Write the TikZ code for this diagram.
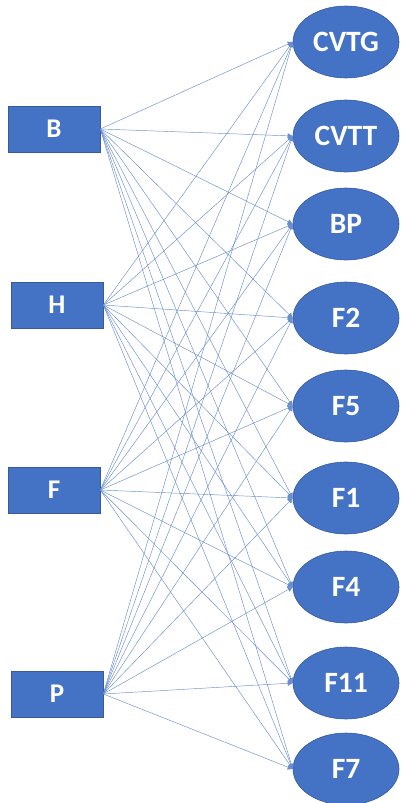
\documentclass[tikz,border=0pt]{standalone}
\usepackage{fontspec}
\setmainfont{Carlito}
\usetikzlibrary{shapes.geometric,arrows.meta}
\definecolor{officeblue}{HTML}{4472C4}
\definecolor{edgeblue}{HTML}{6A8DCD}
\tikzset{
  src/.style={draw=officeblue!80!black, line width=0.6pt, fill=officeblue,
    minimum width=92pt, minimum height=46pt, inner sep=0pt,
    text=white, font=\bfseries\fontsize{27}{30}\selectfont},
  dst/.style={ellipse, draw=officeblue!80!black, line width=0.6pt, fill=officeblue,
    minimum width=106pt, minimum height=72pt, inner sep=0pt,
    text=white, font=\bfseries\fontsize{29.5}{33}\selectfont},
  link/.style={draw=edgeblue, line width=0.45pt,
    -{Triangle[length=5pt,width=5pt]}}
}
\begin{document}
\begin{tikzpicture}[x=1pt,y=-1pt]
\useasboundingbox (0,0) rectangle (401,803);
% input blocks
\node[src] (B) at (54,129) {B};
\node[src] (H) at (57,305) {H};
\node[src] (F) at (54,490) {F};
\node[src] (P) at (57,694) {P};
% output ellipses
\node[dst] (CVTG) at (346,42)  {CVTG};
\node[dst] (CVTT) at (346,136) {CVTT};
\node[dst] (BP)   at (346,224) {BP};
\node[dst] (F2)   at (346,318) {F2};
\node[dst] (F5)   at (346,406) {F5};
\node[dst] (F1)   at (346,498) {F1};
\node[dst] (F4)   at (346,587) {F4};
\node[dst] (F11)  at (346,683) {F11};
\node[dst] (F7)   at (346,769) {F7};
% every block feeds every ellipse
\foreach \s in {B,H,F,P}
  \foreach \t in {CVTG,CVTT,BP,F2,F5,F1,F4,F11,F7}
    \draw[link] (\s.east) -- (\t.west);
\end{tikzpicture}
\end{document}
